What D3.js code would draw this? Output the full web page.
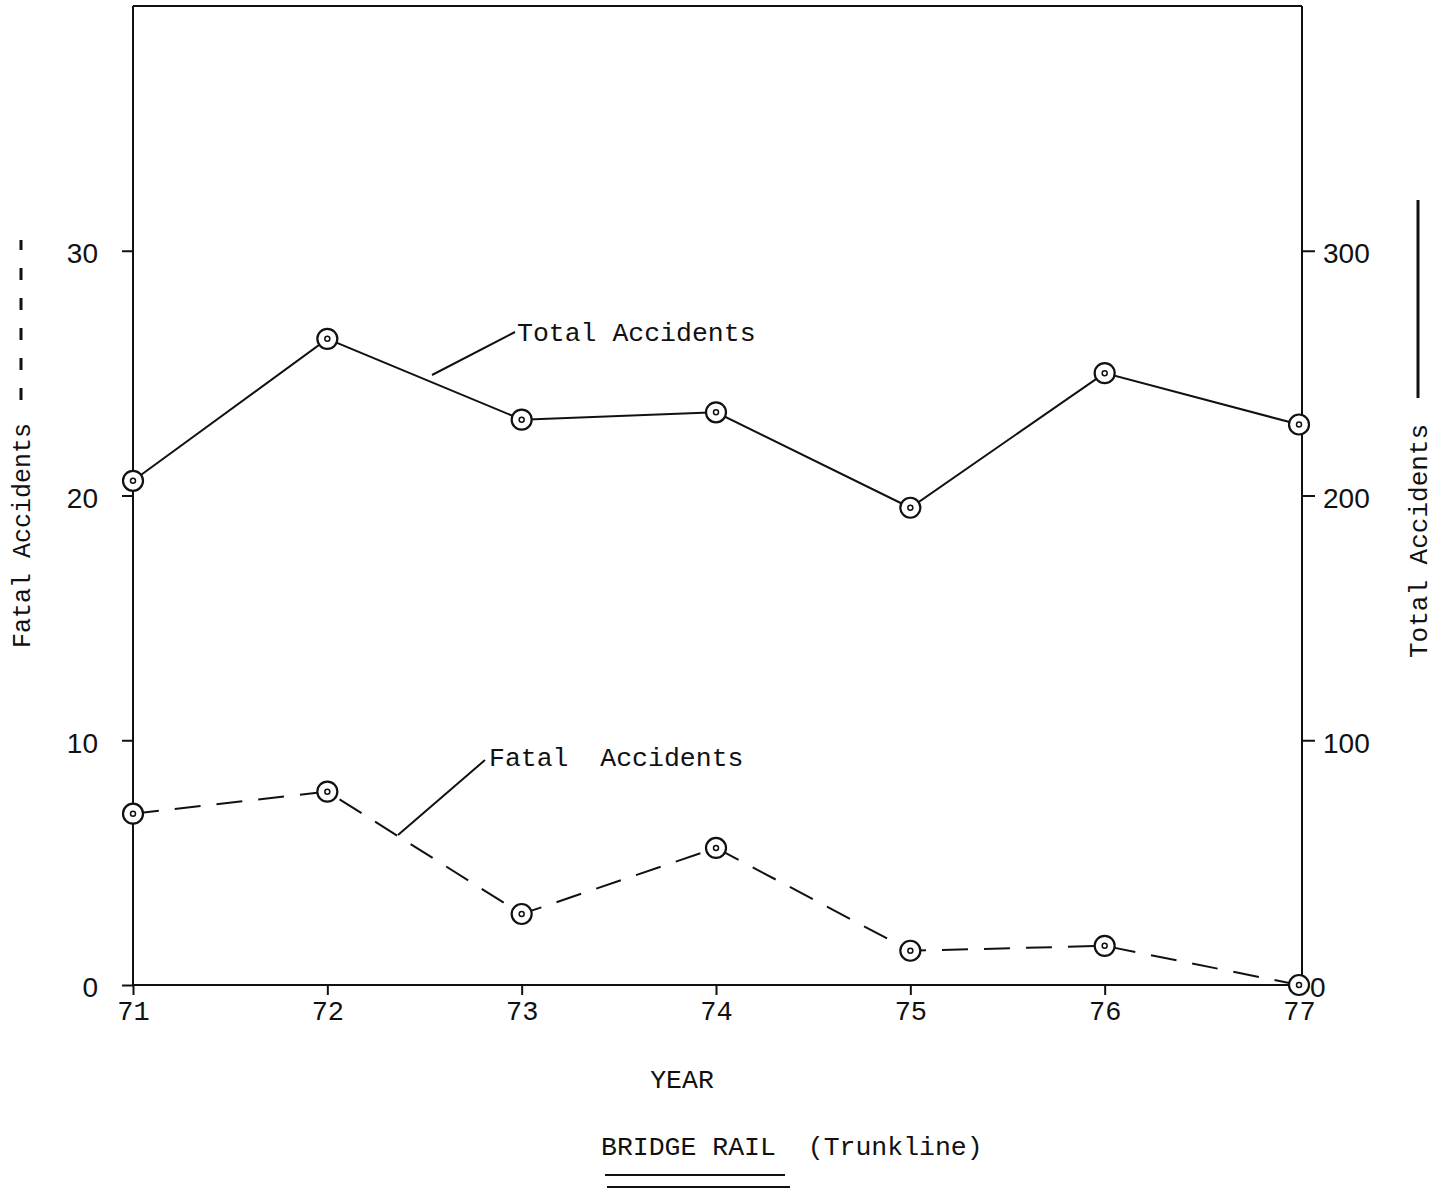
<!DOCTYPE html>
<html><head><meta charset="utf-8">
<script src="https://cdn.jsdelivr.net/npm/d3@7"></script>
<style>body{margin:0;background:#fff}svg{display:block}</style>
</head><body>
<script>
const years = [71, 72, 73, 74, 75, 76, 77];
const totalAccidents = [206, 264, 231, 234, 195, 250, 229];
const fatalAccidents = [7.0, 7.9, 2.9, 5.6, 1.4, 1.6, 0];
const leftTicks = [0, 10, 20, 30];
const rightTicks = [0, 100, 200, 300];

(function () {
const W = 1440, H = 1191;
const svg = d3.select("body").append("svg").attr("width", W).attr("height", H);
const pL = 133, pR = 1302, pT = 6, pB = 985;
const x = d3.scaleLinear().domain([71, 77]).range([133, 1299]);
const yL = d3.scaleLinear().domain([0, 40]).range([pB, pT]);
const yR = d3.scaleLinear().domain([0, 400]).range([pB, pT]);
const ink = "#111";
const mono = "'Liberation Mono', 'DejaVu Sans Mono', monospace";
const sans = "'Liberation Sans', Arial, sans-serif";

svg.append("line").attr("x1", pL).attr("x2", pR).attr("y1", pT).attr("y2", pT).attr("stroke", ink).attr("stroke-width", 2);

const gL = svg.append("g").attr("transform", `translate(${pL},0)`)
  .call(d3.axisLeft(yL).tickValues(leftTicks).tickSize(11).tickPadding(24).tickFormat(d3.format("d")));
const gR = svg.append("g").attr("transform", `translate(${pR},0)`)
  .call(d3.axisRight(yR).tickValues(rightTicks).tickSize(13).tickPadding(8).tickFormat(d3.format("d")));
const gX = svg.append("g").attr("transform", `translate(0,${pB})`)
  .call(d3.axisBottom(x).tickValues(years).tickSize(10).tickPadding(6).tickFormat(d3.format("d")));
[gL, gR, gX].forEach(g => {
  g.select(".domain").attr("stroke", ink).attr("stroke-width", 2);
  g.selectAll(".tick line").attr("stroke", ink).attr("stroke-width", 2);
});
gX.select(".domain").attr("d", `M${pL},0H${pR}`);
gL.select(".domain").attr("d", `M0,${pT}V${pB}`);
gR.select(".domain").attr("d", `M0,${pT}V${pB}`);
gL.selectAll(".tick text").attr("font-family", sans).attr("font-size", 28).attr("fill", ink).attr("dy", "0.42em");
gR.selectAll(".tick text").attr("font-family", sans).attr("font-size", 28).attr("fill", ink).attr("dy", "0.42em");
gR.selectAll(".tick").filter(d => d === 0).select("text").attr("x", 8);
gR.selectAll(".tick").filter(d => d === 0).select("line").attr("x2", 5);
gX.selectAll(".tick text").attr("font-family", mono).attr("font-size", 27).attr("fill", ink);

const lineT = d3.line().x((d, i) => x(years[i])).y(d => yR(d));
const lineF = d3.line().x((d, i) => x(years[i])).y(d => yL(d));
svg.append("path").datum(totalAccidents).attr("d", lineT).attr("fill", "none").attr("stroke", ink).attr("stroke-width", 2);
svg.append("path").datum(fatalAccidents).attr("d", lineF).attr("fill", "none").attr("stroke", ink).attr("stroke-width", 2).attr("stroke-dasharray", "26,16");

function markers(data, yS) {
  const g = svg.append("g");
  g.selectAll("circle.m").data(data).join("circle").attr("class", "m")
    .attr("cx", (d, i) => x(years[i])).attr("cy", d => yS(d)).attr("r", 10)
    .attr("fill", "#fff").attr("stroke", ink).attr("stroke-width", 2.2);
  g.selectAll("circle.d").data(data).join("circle").attr("class", "d")
    .attr("cx", (d, i) => x(years[i])).attr("cy", d => yS(d)).attr("r", 2.5)
    .attr("fill", "none").attr("stroke", ink).attr("stroke-width", 1.5);
}
markers(totalAccidents, yR);
markers(fatalAccidents, yL);

svg.append("line").attr("x1", 432).attr("y1", 375).attr("x2", 515).attr("y2", 332).attr("stroke", ink).attr("stroke-width", 2);
svg.append("text").attr("x", 517).attr("y", 341).attr("font-family", mono).attr("font-size", 26.5).attr("fill", ink).text("Total Accidents");
svg.append("line").attr("x1", 398).attr("y1", 835).attr("x2", 485).attr("y2", 760).attr("stroke", ink).attr("stroke-width", 2);
svg.append("text").attr("x", 489).attr("y", 766).attr("font-family", mono).attr("font-size", 26.5).attr("fill", ink).attr("xml:space", "preserve").text("Fatal  Accidents");

svg.append("text").attr("transform", "translate(30,648) rotate(-90)").attr("font-family", mono).attr("font-size", 25).attr("fill", ink).text("Fatal Accidents");
svg.append("line").attr("x1", 21).attr("x2", 21).attr("y1", 400).attr("y2", 240).attr("stroke", ink).attr("stroke-width", 3).attr("stroke-dasharray", "12,18");
svg.append("text").attr("transform", "translate(1427,658) rotate(-90)").attr("font-family", mono).attr("font-size", 26).attr("fill", ink).text("Total Accidents");
svg.append("line").attr("x1", 1418).attr("x2", 1418).attr("y1", 398).attr("y2", 200).attr("stroke", ink).attr("stroke-width", 3);

svg.append("text").attr("x", 682).attr("y", 1088).attr("text-anchor", "middle").attr("font-family", mono).attr("font-size", 26.5).attr("fill", ink).text("YEAR");
svg.append("text").attr("x", 601).attr("y", 1155).attr("font-family", mono).attr("font-size", 26.5).attr("fill", ink).attr("xml:space", "preserve").text("BRIDGE RAIL  (Trunkline)");
svg.append("line").attr("x1", 605).attr("x2", 785).attr("y1", 1175).attr("y2", 1175).attr("stroke", ink).attr("stroke-width", 2);
svg.append("line").attr("x1", 607).attr("x2", 790).attr("y1", 1187).attr("y2", 1187).attr("stroke", ink).attr("stroke-width", 2);
})();
</script>
</body></html>
